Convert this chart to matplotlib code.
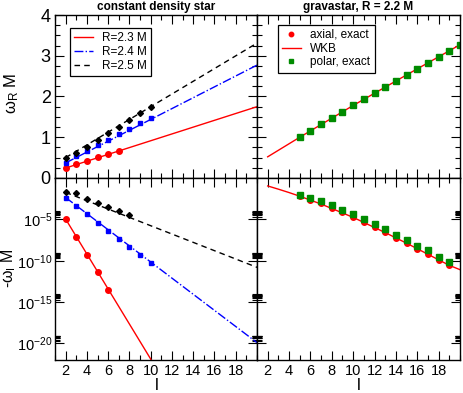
import matplotlib
matplotlib.use("Agg")
import matplotlib.pyplot as plt
import numpy as np
from matplotlib.ticker import FixedLocator, NullFormatter

plt.rcParams['font.family'] = ['Liberation Sans', 'DejaVu Sans']
plt.rcParams['mathtext.fontset'] = 'custom'
plt.rcParams['mathtext.rm'] = 'Liberation Sans'
plt.rcParams['mathtext.it'] = 'Liberation Sans:italic'

# constant density star, omega_R M
l_r23 = [2, 3, 4, 5, 6, 7]
wr_r23 = [0.24, 0.34, 0.42, 0.51, 0.59, 0.67]
l_r24 = [2, 3, 4, 5, 6, 7, 8, 9, 10]
wr_r24 = [0.36, 0.53, 0.67, 0.80, 0.93, 1.07, 1.20, 1.34, 1.48]
l_r25 = [2, 3, 4, 5, 6, 7, 8, 9, 10]
wr_r25 = [0.50, 0.61, 0.77, 0.94, 1.10, 1.26, 1.42, 1.59, 1.75]
line_l = [2, 20]
wr_line23 = [0.245, 1.75]
wr_line24 = [0.37, 2.77]
wr_line25 = [0.50, 3.31]

# constant density star, log10(-omega_I M)
l_i23 = [2, 3, 4, 5, 6]
wi_r23 = [-4.96, -7.16, -9.32, -11.4, -13.48]
l_i24 = [2, 3, 4, 5, 6, 7, 8, 9, 10]
wi_r24 = [-2.36, -3.36, -4.4, -5.4, -6.4, -7.4, -8.36, -9.32, -10.28]
l_i25 = [2, 3, 4, 5, 6, 7, 8]
wi_r25 = [-1.74, -1.86, -2.55, -2.99, -3.48, -4.0, -4.48]
wi_line23_l = [2, 11]
wi_line23 = [-4.96, -24.0]
wi_line24 = [-2.36, -19.9]
wi_line25 = [-1.74, -10.8]

# gravastar, R = 2.2 M
l_grav = [5, 6, 7, 8, 9, 10, 11, 12, 13, 14, 15, 16, 17, 18, 19, 20]
wr_axial = [1.00, 1.15, 1.32, 1.47, 1.63, 1.78, 1.93, 2.09, 2.23, 2.38, 2.53, 2.67, 2.82, 2.97, 3.12, 3.26]
wr_polar = [1.00, 1.15, 1.32, 1.47, 1.63, 1.78, 1.93, 2.09, 2.23, 2.38, 2.53, 2.67, 2.82, 2.97, 3.12, 3.26]
wkb_l = [2, 5, 10, 15, 20]
wr_wkb = [0.52, 1.00, 1.78, 2.53, 3.27]

l_grav_i = [5, 6, 7, 8, 9, 10, 11, 12, 13, 14, 15, 16, 17, 18, 19]
wi_axial = [-2.16, -2.6, -3.08, -3.6, -4.16, -4.72, -5.32, -5.96, -6.56, -7.2, -7.84, -8.56, -9.2, -9.88, -10.52]
wi_polar = [-2.0, -2.36, -2.8, -3.28, -3.84, -4.36, -5.0, -5.6, -6.2, -6.84, -7.52, -8.16, -8.76, -9.52, -10.12]
wkb_il = [2, 3, 4, 5, 7, 10, 13, 15, 17, 19, 20]
wi_wkb = [-0.96, -1.35, -1.76, -2.2, -3.15, -4.76, -6.6, -7.88, -9.22, -10.56, -11.08]

green = '#008b00'
ms = 4.0

fig = plt.figure(figsize=(4.63, 3.93), dpi=100)
W, H = 463.0, 393.0
def box(x0, y0, x1, y1):
    return [x0 / W, 1 - y1 / H, (x1 - x0) / W, (y1 - y0) / H]

ax1 = fig.add_axes(box(55, 15, 257, 178))
ax2 = fig.add_axes(box(257, 15, 460, 178))
ax3 = fig.add_axes(box(55, 178, 257, 360))
ax4 = fig.add_axes(box(257, 178, 460, 360))

# top left
ax1.plot(line_l, wr_line23, '-', color='red', lw=1, label='R=2.3 M')
ax1.plot(line_l, wr_line24, '-.', color='blue', lw=1, label='R=2.4 M')
ax1.plot(line_l, wr_line25, '--', color='black', lw=1, dashes=(4, 3), label='R=2.5 M')
ax1.plot(l_r23, wr_r23, 'o', color='red', ms=ms)
ax1.plot(l_r24, wr_r24, 's', color='blue', ms=ms - 0.5)
ax1.plot(l_r25, wr_r25, 'D', color='black', ms=ms - 1)
ax1.set_ylim(0, 4)
ax1.legend(loc='upper left', bbox_to_anchor=(0.074, 0.92), borderaxespad=0,
           fontsize=8.5, frameon=True, fancybox=False, edgecolor='black',
           framealpha=1, handlelength=1.6, handletextpad=0.8,
           labelspacing=0.15, borderpad=0.35).get_frame().set_linewidth(0.9)

# top right
ax2.plot(l_grav, wr_axial, 'o', color='red', ms=ms, label='axial, exact')
ax2.plot(wkb_l, wr_wkb, '-', color='red', lw=1, label='WKB')
ax2.plot(l_grav, wr_polar, 's', color=green, ms=ms, label='polar, exact')
ax2.set_ylim(0, 4)
ax2.legend(loc='upper left', bbox_to_anchor=(0.103, 0.94), borderaxespad=0,
           fontsize=8.5, frameon=True, fancybox=False, edgecolor='black',
           framealpha=1, handlelength=1.6, handletextpad=0.8, markerscale=0.8,
           labelspacing=0.15, borderpad=0.35).get_frame().set_linewidth(0.9)

# bottom left
ax3.plot(wi_line23_l, 10.0 ** np.array(wi_line23), '-', color='red', lw=1)
ax3.plot(line_l, 10.0 ** np.array(wi_line24), '-.', color='blue', lw=1)
ax3.plot(line_l, 10.0 ** np.array(wi_line25), '--', color='black', lw=1, dashes=(4, 3))
ax3.plot(l_i23, 10.0 ** np.array(wi_r23), 'o', color='red', ms=ms)
ax3.plot(l_i24, 10.0 ** np.array(wi_r24), 's', color='blue', ms=ms - 0.5)
ax3.plot(l_i25, 10.0 ** np.array(wi_r25), 'D', color='black', ms=ms - 1)

# bottom right
ax4.plot(wkb_il, 10.0 ** np.array(wi_wkb), '-', color='red', lw=1)
ax4.plot(l_grav_i, 10.0 ** np.array(wi_axial), 'o', color='red', ms=ms)
ax4.plot(l_grav_i, 10.0 ** np.array(wi_polar), 's', color=green, ms=ms)

for ax in (ax3, ax4):
    ax.set_yscale('log')
    ax.set_ylim(1e-22, 1e0)
    ax.yaxis.set_major_locator(FixedLocator([1e-20, 1e-15, 1e-10, 1e-5]))
    minors = [k * 10.0 ** n for n in (-20, -15, -10, -5) for k in range(2, 10)]
    ax.yaxis.set_minor_locator(FixedLocator(minors))
    ax.yaxis.set_minor_formatter(NullFormatter())

for ax in (ax1, ax2):
    ax.yaxis.set_major_locator(FixedLocator([0, 1, 2, 3, 4]))
    ax.yaxis.set_minor_locator(FixedLocator(np.arange(0, 4.01, 0.25)))

for ax in (ax1, ax2, ax3, ax4):
    ax.set_xlim(1, 20)
    ax.xaxis.set_major_locator(FixedLocator([2, 4, 6, 8, 10, 12, 14, 16, 18]))
    ax.xaxis.set_minor_locator(FixedLocator(range(1, 21)))
    ax.tick_params(which='both', direction='in', top=True, right=True, width=0.8)
    ax.tick_params(which='major', length=6.5)
    ax.tick_params(which='minor', length=3.5)
    for s in ax.spines.values():
        s.set_linewidth(1.0)

ax1.tick_params(labelbottom=False, labelsize=13, pad=3)
ax2.tick_params(labelbottom=False, labelleft=False)
ax3.tick_params(axis='x', labelsize=10.5, pad=3)
ax3.tick_params(axis='y', labelsize=10.5, pad=2)
ax4.tick_params(labelleft=False, labelsize=10.5, pad=3)

fig.text(0.5 * (55 + 257) / W, 1 - 7 / H, 'constant density star', ha='center', va='center',
         fontsize=8.5, fontweight='bold')
fig.text(0.5 * (257 + 460) / W, 1 - 7 / H, 'gravastar, R = 2.2 M', ha='center', va='center',
         fontsize=8.5, fontweight='bold')
fig.text(12 / W, 1 - 93 / H, 'ω$_\\mathrm{R}$ M', rotation=90, ha='center', va='center', fontsize=12)
fig.text(9 / W, 1 - 268 / H, '-ω$_\\mathrm{I}$ M', rotation=90, ha='center', va='center', fontsize=11.5)
fig.text(157 / W, 1 - 385 / H, 'l', ha='center', va='center', fontsize=12)
fig.text(359 / W, 1 - 385 / H, 'l', ha='center', va='center', fontsize=12)

fig.savefig('out.png', dpi=100)
